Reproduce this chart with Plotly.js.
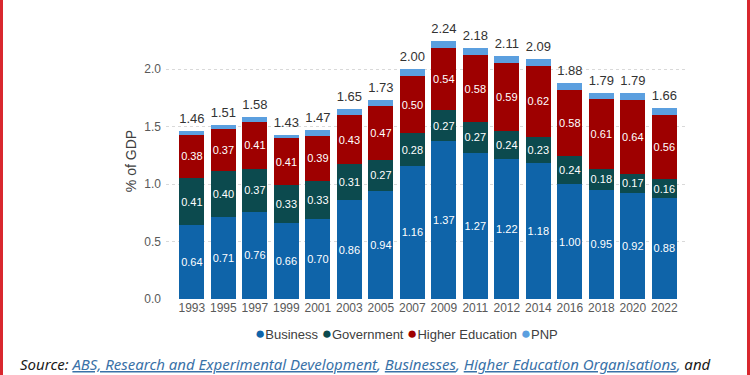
<!DOCTYPE html>
<html>
<head>
<meta charset="utf-8">
<script src="https://cdn.plot.ly/plotly-3.0.1.min.js"></script>
<style>
  html, body { margin: 0; padding: 0; background: #ffffff; }
  #wrap { position: relative; width: 750px; height: 375px; overflow: hidden; }
  #chart { width: 750px; height: 375px; }
  .rbar { position: absolute; top: 0; width: 3px; height: 375px; background: #d9272e; }
</style>
</head>
<body>
<div id="wrap">
  <div id="chart"></div>
  <div class="rbar" style="left:0px;"></div>
  <div class="rbar" style="left:747px;"></div>
</div>
<script>
const years = ['1993','1995','1997','1999','2001','2003','2005','2007','2009','2011','2012','2014','2016','2018','2020','2022'];
const business   = [0.64,0.71,0.76,0.66,0.70,0.86,0.94,1.16,1.37,1.27,1.22,1.18,1.00,0.95,0.92,0.88];
const government = [0.41,0.40,0.37,0.33,0.33,0.31,0.27,0.28,0.27,0.27,0.24,0.23,0.24,0.18,0.17,0.16];
const higherEd   = [0.38,0.37,0.41,0.41,0.39,0.43,0.47,0.50,0.54,0.58,0.59,0.62,0.58,0.61,0.64,0.56];
const pnp        = [0.03,0.03,0.04,0.03,0.05,0.05,0.05,0.06,0.06,0.06,0.06,0.06,0.06,0.05,0.06,0.06];
const totals     = [1.46,1.51,1.58,1.43,1.47,1.65,1.73,2.00,2.24,2.18,2.11,2.09,1.88,1.79,1.79,1.66];
const seriesNames  = ['Business','Government','Higher Education','PNP'];
const seriesColors = ['#0f64a9','#0c4a4e','#9e0000','#5b9fdf'];
const yTicks = [0, 0.5, 1.0, 1.5, 2.0];

function barTrace(vals, i, withText) {
  return {
    type: 'bar', x: years, y: vals, name: seriesNames[i],
    marker: { color: seriesColors[i], line: { width: 0 } },
    text: withText ? vals.map(v => v.toFixed(2)) : undefined,
    textposition: withText ? 'inside' : 'none',
    insidetextanchor: 'middle',
    constraintext: 'none',
    textangle: 0,
    textfont: { family: 'Liberation Sans, Arial, sans-serif', size: 11, color: '#ffffff' },
    showlegend: false,
    hoverinfo: 'skip'
  };
}

const traces = [
  barTrace(business, 0, true),
  barTrace(government, 1, true),
  barTrace(higherEd, 2, true),
  barTrace(pnp, 3, false),
  {
    type: 'scatter', mode: 'markers+text', x: years, y: totals,
    text: totals.map(v => v.toFixed(2)),
    textposition: 'top center',
    marker: { size: 6, opacity: 0 },
    textfont: { family: 'Liberation Sans, Arial, sans-serif', size: 13, color: '#333333' },
    cliponaxis: false, showlegend: false, hoverinfo: 'skip'
  }
];

const legendText = seriesNames.map((n, i) =>
  '<span style="color:' + seriesColors[i] + ';font-size:17px">●</span>' + n).join(' ');

const layout = {
  width: 750, height: 375,
  margin: { l: 166, r: 63, t: 23, b: 76 },
  paper_bgcolor: '#ffffff', plot_bgcolor: '#ffffff',
  barmode: 'stack', bargap: 0.2,
  showlegend: false,
  font: { family: 'Liberation Sans, Arial, sans-serif', color: '#595959' },
  xaxis: {
    type: 'category', range: [-0.82, 15.72],
    showgrid: false, zeroline: false, showline: false, ticks: '',
    tickfont: { size: 12, color: '#595959' }
  },
  yaxis: {
    range: [0, 2.4], tickvals: yTicks, ticktext: yTicks.map(v => v.toFixed(1)),
    showgrid: true, gridcolor: '#d9d9d9', griddash: 'dot', gridwidth: 1,
    zeroline: false, showline: false, ticks: '',
    ticklabelstandoff: 4,
    tickfont: { size: 12, color: '#595959' },
    title: { text: '% of GDP', font: { size: 14, color: '#404040' }, standoff: 4 }
  },
  annotations: [
    {
      xref: 'paper', yref: 'paper', x: 0.461, y: -0.125, xanchor: 'center', yanchor: 'middle',
      text: legendText, showarrow: false,
      font: { family: 'Liberation Sans, Arial, sans-serif', size: 13, color: '#404040' }
    },
    {
      xref: 'paper', yref: 'paper', x: -0.284, y: -0.236, xanchor: 'left', yanchor: 'middle',
      text: '<i>Source: <span style="color:#3a72a8"><u>ABS, Research and Experimental Development</u>, <u>Businesses</u>, <u>Higher Education Organisations</u>,</span> and</i>',
      showarrow: false,
      font: { family: 'Noto Sans, sans-serif', size: 15, color: '#1a1a1a' }
    }
  ]
};

Plotly.newPlot('chart', traces, layout, { staticPlot: true, displayModeBar: false });
</script>
</body>
</html>
